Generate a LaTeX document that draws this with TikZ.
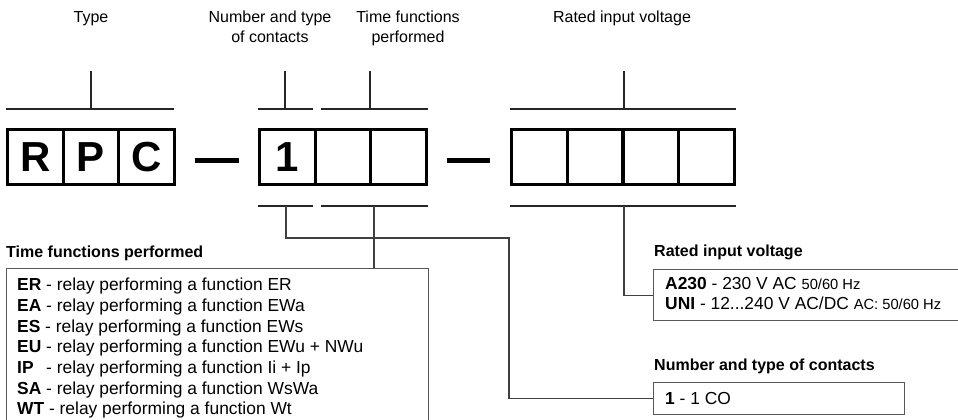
\documentclass[tikz,border=0pt]{standalone}
\usepackage{fontspec}
\setmainfont{Liberation Sans}
\begin{document}
\begin{tikzpicture}[x=1pt,y=-1pt,
  cell/.style={draw, line width=3pt, minimum width=55.7pt, minimum height=55pt, inner sep=0pt, font=\fontsize{42}{42}\selectfont\bfseries},
  lbl/.style={anchor=base, inner sep=0pt, font=\fontsize{16}{20}\selectfont},
  ttl/.style={anchor=base west, inner sep=0pt, font=\fontsize{16}{20}\selectfont\bfseries},
  txt/.style={anchor=base west, inner sep=0pt, font=\fontsize{17.4}{20}\selectfont},
  sml/.style={font=\fontsize{14.7}{18}\selectfont},
  brk/.style={line width=1.3pt, draw=black!85},
  con/.style={line width=1.3pt, draw=black!75},
  frame/.style={draw=black!65, line width=1.3pt, inner sep=0pt, anchor=north west},
  dashbar/.style={line width=5pt}
]
\useasboundingbox (0,0) rectangle (958,420);

% top labels
\node[lbl] (lType) at (91,22.7) {Type};
\node[lbl] (lNum1) at (270,22.7) {Number and type};
\node[lbl] (lNum2) at (270,42.7) {of contacts};
\node[lbl] (lTim1) at (408,22.7) {Time functions};
\node[lbl] (lTim2) at (408,42.7) {performed};
\node[lbl] (lRat) at (622,22.7) {Rated input voltage};

% cells
\node[cell] (c1) at (35.3,157) {R};
\node[cell] (c2) at (91,157) {P};
\node[cell] (c3) at (146.7,157) {C};
\node[cell] (c4) at (287.3,157) {1};
\node[cell] (c5) at (343,157) {};
\node[cell] (c6) at (398.7,157) {};
\node[cell] (c7) at (539.4,157) {};
\node[cell] (c8) at (595.1,157) {};
\node[cell] (c9) at (650.9,157) {};
\node[cell] (c10) at (706.6,157) {};

% dashes
\coordinate (d1a) at (195,160); \coordinate (d1b) at (239,160);
\coordinate (d2a) at (447,160); \coordinate (d2b) at (490,160);
\draw[dashbar] (d1a) -- (d1b);
\draw[dashbar] (d2a) -- (d2b);

% top brackets
\coordinate (t1a) at (6,109);   \coordinate (t1b) at (174,109); \coordinate (t1m) at (91,109);  \coordinate (t1u) at (91,71);
\coordinate (t2a) at (258,109); \coordinate (t2b) at (313,109); \coordinate (t2m) at (285,109); \coordinate (t2u) at (285,71);
\coordinate (t3a) at (321,109); \coordinate (t3b) at (428,109); \coordinate (t3m) at (370,109); \coordinate (t3u) at (370,71);
\coordinate (t4a) at (510,109); \coordinate (t4b) at (736,109); \coordinate (t4m) at (624,109); \coordinate (t4u) at (624,71);
\foreach \i in {1,2,3,4}{
  \draw[brk] (t\i a) -- (t\i b);
  \draw[brk] (t\i m) -- (t\i u);
}

% bottom brackets
\coordinate (b1a) at (258,206); \coordinate (b1b) at (313,206); \coordinate (b1m) at (286,206);
\coordinate (b2a) at (321,206); \coordinate (b2b) at (428,206); \coordinate (b2m) at (374,206);
\coordinate (b3a) at (510,206); \coordinate (b3b) at (736,206); \coordinate (b3m) at (624,206);
\foreach \i in {1,2,3}{
  \draw[brk] (b\i a) -- (b\i b);
}

% lower boxes
\node[frame, minimum width=422pt, minimum height=172pt] (tbox) at (6,268) {};
\node[frame, minimum width=320pt, minimum height=51pt] (rbox) at (653,269) {};
\node[frame, minimum width=251pt, minimum height=32pt] (cbox) at (653,382) {};

% connectors
\coordinate (k1) at (286,238);
\coordinate (k2) at (509,238);
\draw[con] (b1m) -- (k1) -- (k2) |- (cbox.west);
\draw[con] (b2m) -- (b2m |- tbox.north);
\draw[con] (b3m) |- (rbox.west);

% titles
\node[ttl] (hTim) at (6,257) {Time functions performed};
\node[ttl] (hRat) at (654,256) {Rated input voltage};
\node[ttl] (hNum) at (654,370) {Number and type of contacts};

% time functions list
\node[txt] (f1) at (17,290.7) {\textbf{ER} - relay performing a function ER};
\node[txt] (f2) at (17,311.4) {\textbf{EA} - relay performing a function EWa};
\node[txt] (f3) at (17,332.1) {\textbf{ES} - relay performing a function EWs};
\node[txt] (f4) at (17,352.8) {\textbf{EU} - relay performing a function EWu + NWu};
\node[txt] (f5) at (17,373.5) {\rlap{\textbf{IP}}\phantom{\textbf{EU}} - relay performing a function Ii + Ip};
\node[txt] (f6) at (17,394.2) {\textbf{SA} - relay performing a function WsWa};
\node[txt] (f7) at (17,414.9) {\textbf{WT} - relay performing a function Wt};

% rated voltage
\node[txt] (v1) at (665,289) {\textbf{A230} - 230 V AC {\fontsize{14.7}{18}\selectfont 50/60 Hz}};
\node[txt] (v2) at (665,309) {\textbf{UNI} - 12...240 V AC/DC {\fontsize{14.7}{18}\selectfont AC: 50/60 Hz}};

% contacts
\node[txt] (n1) at (665,404) {\textbf{1} - 1 CO};
\end{tikzpicture}
\end{document}
